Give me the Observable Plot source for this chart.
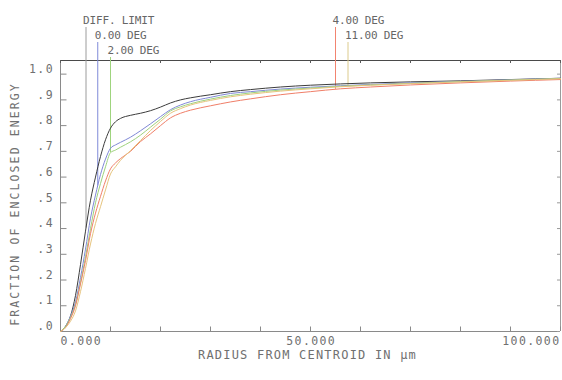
<!DOCTYPE html>
<html>
<head>
<meta charset="utf-8">
<script src="https://cdn.jsdelivr.net/npm/d3@7"></script>
<script src="https://cdn.jsdelivr.net/npm/@observablehq/plot@0.6"></script>
<style>
  html, body { margin: 0; padding: 0; background: #ffffff; }
  #chart { width: 562px; height: 380px; }
</style>
</head>
<body>
<div id="chart"></div>
<script>
// ---- Data ----
const radius = [0,1,2,3,4,5,6,7,8,9,10,11,12,14,16,18,20,22,24,26,30,34,38,44,50,56,62,70,80,90,100];
const diffLimit = [0,.02,.06,.14,.26,.39,.51,.60,.68,.745,.79,.815,.828,.84,.848,.858,.872,.888,.90,.908,.92,.932,.94,.95,.957,.962,.966,.97,.974,.979,.984];
const deg0  = [0,.02,.06,.115,.21,.32,.44,.53,.61,.67,.712,.725,.735,.755,.78,.807,.835,.862,.88,.893,.91,.925,.932,.942,.949,.955,.96,.966,.972,.978,.984];
const deg2  = [0,.02,.055,.105,.19,.29,.40,.50,.575,.64,.695,.705,.716,.737,.763,.794,.825,.857,.873,.885,.903,.917,.927,.938,.946,.953,.958,.964,.971,.977,.983];
const deg4  = [0,.015,.05,.10,.185,.275,.38,.46,.525,.585,.632,.655,.672,.70,.738,.768,.80,.83,.848,.86,.877,.892,.904,.92,.932,.943,.95,.958,.966,.973,.979];
const deg11 = [0,.015,.04,.08,.155,.245,.34,.42,.485,.55,.612,.64,.665,.703,.742,.781,.816,.848,.866,.88,.898,.912,.922,.934,.943,.951,.957,.963,.970,.976,.982];

const seriesNames  = ["DIFF. LIMIT", "0.00 DEG", "2.00 DEG", "4.00 DEG", "11.00 DEG"];
const seriesValues = [diffLimit, deg0, deg2, deg4, deg11];
const seriesColors = ["#3c3c3c", "#7f88d6", "#9fd27e", "#f07e68", "#e6c47e"];
const leaderColors = ["#9c9c9c", "#7f8ad8", "#9fd47e", "#f28470", "#dccb8c"];
const labelX   = [5.1, 7.45, 10, 55, 57.5];   // µm where each label's leader meets its curve
const labelRow = [0, 1, 2, 0, 1];

const xTicks = [0,10,20,30,40,50,60,70,80,90,100];
const xTickLabelValues = [0, 50, 100];
const xTickLabels = ["0.000", "50.000", "100.000"];
const yTicks = [0,.1,.2,.3,.4,.5,.6,.7,.8,.9,1.0];
const yTickLabels = [".0",".1",".2",".3",".4",".5",".6",".7",".8",".9","1.0"];
const xTitle = "RADIUS FROM CENTROID IN µm";
const yTitle = "FRACTION OF ENCLOSED ENERGY";

// ---- Layout ----
const W = 562, H = 380;
const mL = 60, mR = 2, mT = 60, mB = 49;
const xDomain = [0, 100];
const yMax = 1.053;
const font = "DejaVu Sans Mono, Liberation Mono, monospace";

const ys = Plot.scale({y: {domain: [0, yMax], range: [H - mB, mT]}});
const pxPerX = (W - mL - mR) / (xDomain[1] - xDomain[0]);
const unitY = (px) => ys.invert(H - mB - px);

const table = seriesNames.flatMap((name, i) =>
  radius.map((r, j) => ({series: name, r, v: seriesValues[i][j]})));

const legend = seriesNames.map((name, i) => {
  const interp = d3.scaleLinear().domain(radius).range(seriesValues[i]);
  const labelPx = 19.5 + 15 * labelRow[i];
  return {
    name, color: leaderColors[i], x: labelX[i],
    yBottom: interp(labelX[i]),
    yTop: ys.invert(labelPx + 7.5),
    yLabel: ys.invert(labelPx)
  };
});

const tickLenY = unitY(4.5) - unitY(0);
const tickLenTop = unitY(3) - unitY(0);

const plot = Plot.plot({
  width: W, height: H,
  marginLeft: mL, marginRight: mR, marginTop: mT, marginBottom: mB,
  x: {domain: xDomain, axis: null},
  y: {domain: [0, yMax], axis: null},
  color: {domain: seriesNames, range: seriesColors},
  style: {fontFamily: font, background: "#ffffff"},
  marks: [
    // frame
    Plot.ruleY([0], {stroke: "#8a8a8a", strokeWidth: 1}),
    Plot.ruleY([yMax], {stroke: "#4a4a4a", strokeWidth: 1}),
    Plot.ruleX([xDomain[0]], {stroke: "#8a8a8a", strokeWidth: 1}),
    Plot.ruleX([xDomain[1]], {stroke: "#9a9a9a", strokeWidth: 1}),
    // inward ticks
    Plot.ruleY(yTicks, {y: d => d, x1: 0, x2: 6.5 / pxPerX, stroke: "#8a8a8a"}),
    Plot.ruleY(yTicks, {y: d => d, x1: 100 - 3 / pxPerX, x2: 100, stroke: "#9a9a9a"}),
    Plot.ruleX(xTicks, {x: d => d, y1: 0, y2: tickLenY, stroke: "#8a8a8a"}),
    Plot.ruleX(xTicks, {x: d => d, y1: yMax - tickLenTop, y2: yMax, stroke: "#5a5a5a"}),
    // leaders, one mark per label so each keeps its literal colour
    ...legend.map(d => Plot.ruleX([d], {x: "x", y1: "yBottom", y2: "yTop", stroke: d.color, strokeWidth: 1})),
    // curves
    Plot.line(table, {x: "r", y: "v", z: "series", stroke: "series", strokeWidth: 1, curve: "monotone-x"}),
    // legend labels
    Plot.text(legend, {x: "x", y: "yLabel", text: "name", textAnchor: "start", lineAnchor: "middle",
      dx: -3, fontSize: 11, fill: "#666"}),
    // y tick labels
    Plot.text(yTicks, {x: 0, y: d => d, text: (d, i) => yTickLabels[i], textAnchor: "end",
      lineAnchor: "middle", dx: -6.5, dy: -5, fontSize: 11.5, fill: "#707070"}),
    // x tick labels
    Plot.text([xTickLabelValues[0]], {x: d => d, y: 0, text: () => xTickLabels[0], textAnchor: "start",
      lineAnchor: "middle", dy: 10, fontSize: 11.5, fill: "#707070"}),
    Plot.text([xTickLabelValues[1]], {x: d => d, y: 0, text: () => xTickLabels[1], textAnchor: "middle",
      lineAnchor: "middle", dy: 10, dx: 0.7, fontSize: 11.5, fill: "#707070"}),
    Plot.text([xTickLabelValues[2]], {x: d => d, y: 0, text: () => xTickLabels[2], textAnchor: "end",
      lineAnchor: "middle", dy: 10, dx: 0, fontSize: 11.5, fill: "#707070"}),
    // axis titles
    Plot.text([xTitle], {frameAnchor: "bottom", text: d => d, textAnchor: "middle", lineAnchor: "middle",
      dx: -3, dy: 24, fontSize: 12, fill: "#707070"}),
    Plot.text([yTitle], {frameAnchor: "left", text: d => d, textAnchor: "middle", lineAnchor: "middle",
      rotate: -90, dx: -45, dy: 8, fontSize: 11.5, fill: "#707070"})
  ]
});

// letter spacing by text content (typographic tweak only)
const spacing = new Map([
  ...seriesNames.map(s => [s, -0.15]),
  ...xTickLabels.map(s => [s, 1.4]),
  ...yTickLabels.map(s => [s, 1.4]),
  [xTitle, 1.2],
  [yTitle, 2.1]
]);
plot.querySelectorAll("text").forEach(t => {
  const ls = spacing.get(t.textContent);
  if (ls !== undefined) t.style.letterSpacing = ls + "px";
});

document.getElementById("chart").appendChild(plot);
</script>
</body>
</html>
